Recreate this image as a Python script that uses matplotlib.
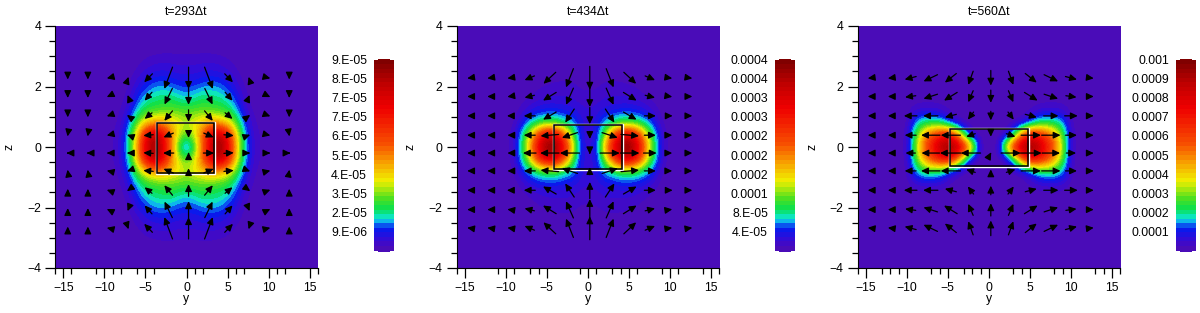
import numpy as np
import matplotlib
matplotlib.use('Agg')
import matplotlib.pyplot as plt
from matplotlib.colors import LinearSegmentedColormap
from matplotlib.patches import Rectangle

plt.rcParams['font.family'] = ['Liberation Sans', 'DejaVu Sans']
plt.rcParams['font.size'] = 8.8

W, H = 1200, 313

titles = ['t=293\u0394t', 't=434\u0394t', 't=560\u0394t']
bar_labels = [
    ['9.E-05', '8.E-05', '7.E-05', '7.E-05', '6.E-05', '5.E-05', '4.E-05', '3.E-05', '2.E-05', '9.E-06'],
    ['0.0004', '0.0004', '0.0003', '0.0003', '0.0002', '0.0002', '0.0002', '0.0001', '8.E-05', '4.E-05'],
    ['0.001', '0.0009', '0.0008', '0.0007', '0.0006', '0.0005', '0.0004', '0.0003', '0.0002', '0.0001'],
]
major_y = [-15, -10, -5, 0, 5, 10, 15]
minor_y = [
    [-16, -14, -11, -9, -8, -6, -4, 1, 2, 6, 7, 11, 12, 16],
    [-16, -11, -9, -7, -6, -1, 1, 3, 4, 6, 9, 11, 14, 16],
    [-16, -13, -12, -11, -7, -6, -3, -2, -1, 3, 4, 8, 9, 13, 14, 16],
]
major_z = [-4, -2, 0, 2, 4]
minor_z = [-3.5, -3, -2.5, -1.5, -1, -0.5, 0.5, 1, 1.5, 2.5, 3, 3.5]

# Field, quarter plane, normalised to the colour bar. Rows z=0,0.4,..4.0, columns y=0,1,..11
field_1 = [
    [.05, .25, .55, .85, .98, .80, .45, .20, .05, .02, .01, 0],
    [.28, .35, .55, .80, .90, .72, .42, .18, .05, .02, .01, 0],
    [.33, .38, .42, .48, .45, .40, .28, .13, .03, .015, .005, 0],
    [.27, .28, .28, .27, .26, .24, .17, .07, .02, .01, 0, 0],
    [.17, .19, .22, .21, .20, .17, .11, .04, .01, .005, 0, 0],
    [.11, .12, .14, .15, .14, .11, .07, .02, .01, 0, 0, 0],
    [.07, .07, .08, .085, .08, .06, .035, .01, .005, 0, 0, 0],
    [.04, .04, .045, .045, .04, .03, .015, .005, 0, 0, 0, 0],
    [.015, .015, .015, .015, .012, .01, .005, 0, 0, 0, 0, 0],
    [.005, .005, .005, .005, .005, .002, 0, 0, 0, 0, 0, 0],
    [0, 0, 0, 0, 0, 0, 0, 0, 0, 0, 0, 0],
]
field_2 = [
    [.06, .09, .45, .75, .97, 1.0, .80, .50, .22, .05, .01, 0],
    [.05, .08, .30, .60, .80, .82, .68, .40, .20, .04, .01, 0],
    [.06, .08, .16, .19, .24, .25, .22, .17, .09, .02, .005, 0],
    [.05, .06, .08, .09, .10, .10, .09, .07, .04, .01, 0, 0],
    [.03, .035, .05, .05, .05, .05, .04, .025, .015, 0, 0, 0],
    [.02, .02, .03, .03, .03, .025, .02, .01, .005, 0, 0, 0],
    [.01, .01, .015, .015, .015, .01, .01, .005, 0, 0, 0, 0],
    [.005, .005, .005, .005, .005, .005, 0, 0, 0, 0, 0, 0],
    [0, 0, 0, 0, 0, 0, 0, 0, 0, 0, 0, 0],
    [0, 0, 0, 0, 0, 0, 0, 0, 0, 0, 0, 0],
    [0, 0, 0, 0, 0, 0, 0, 0, 0, 0, 0, 0],
]
field_3 = [
    [0, .02, .40, .75, .95, 1.0, .90, .72, .55, .30, .03, .005],
    [0, 0, .03, .20, .55, .75, .70, .60, .45, .25, .03, .005],
    [0, 0, 0, .01, .03, .10, .20, .22, .22, .15, .02, 0],
    [0, 0, 0, 0, .01, .02, .04, .05, .05, .04, .015, 0],
    [0, 0, 0, 0, 0, .005, .01, .01, .01, .01, 0, 0],
    [0, 0, 0, 0, 0, 0, 0, 0, 0, 0, 0, 0],
    [0, 0, 0, 0, 0, 0, 0, 0, 0, 0, 0, 0],
    [0, 0, 0, 0, 0, 0, 0, 0, 0, 0, 0, 0],
    [0, 0, 0, 0, 0, 0, 0, 0, 0, 0, 0, 0],
    [0, 0, 0, 0, 0, 0, 0, 0, 0, 0, 0, 0],
    [0, 0, 0, 0, 0, 0, 0, 0, 0, 0, 0, 0],
]

# Arrows, right half of the top rows. Columns y=.25,2.7,5.15,7.6,10.05,12.5
arrow_rows = [2.28, 1.67, 1.03, 0.39, -0.2]
arrow_cols = [0.25, 2.7, 5.15, 7.6, 10.05, 12.5]
u_1 = [[0, 1.0, 1.0, -.1, .3, 0], [0, .95, .9, .15, .3, 0], [0, 1.0, .9, .3, .3, 0],
       [0, 1.2, 1.2, .3, .3, .05], [0, 1.3, 1.2, .3, .3, .3]]
v_1 = [[-.72, -.72, -.28, .08, -.02, -.1], [-.55, -.53, -.28, .1, -.04, -.1], [-.4, -.33, -.2, .06, -.03, -.1],
       [-.18, -.14, -.03, .03, -.02, -.08], [.05, 0, .02, 0, 0, 0]]
u_2 = [[0, .9, 1.5, 1.2, .5, .5], [0, .9, 1.6, 1.2, .5, .5], [0, 1.1, 1.6, 1.4, .6, .5],
       [0, 1.9, 2.2, 1.4, .5, .5], [0, 2.4, 2.3, 1.6, .5, .5]]
v_2 = [[-.77, -.62, -.38, -.14, -.02, -.02], [-.7, -.55, -.27, -.08, -.02, 0], [-.55, -.45, -.25, 0, 0, 0],
       [-.25, -.17, -.05, 0, 0, 0], [-.08, 0, 0, 0, 0, 0]]
u_3 = [[0, .6, 1.4, 1.7, 1.4, .6], [0, .6, 1.6, 1.7, 1.3, .6], [0, .7, 1.4, 1.8, 1.6, .6],
       [0, 1.1, 2.4, 2.3, 1.4, .6], [.1, 2.4, 2.6, 2.2, 1.2, .6]]
v_3 = [[-.5, -.45, -.3, -.22, -.1, -.02], [-.42, -.38, -.27, -.15, -.05, 0], [-.3, -.25, -.1, 0, 0, 0],
       [-.1, -.1, 0, 0, 0, 0], [.05, 0, 0, 0, 0, 0]]

# Black rectangle y0,y1,z0,z1
boxes = [(-3.54, 3.37, -.85, .8), (-4.1, 4.2, -.74, .72), (-4.75, 4.75, -.64, .61)]

cmap_pos = [0, .04, .10, .135, .155, .21, .27, .36, .46, .56, .75, .88, 1.0]
cmap_col = ['#4a0cb8', '#3a0ad2', '#0a1aee', '#0a78f0', '#10e8e8', '#08e050', '#50e020', '#f0f000',
            '#f8a000', '#f85000', '#f00000', '#c00000', '#800000']
cmap = LinearSegmentedColormap.from_list('rainbow_bands', list(zip(cmap_pos, cmap_col)), N=42)


def px_axes(x0, x1, y0, y1):
    return fig.add_axes([x0 / W, 1 - y1 / H, (x1 - x0) / W, (y1 - y0) / H])


def full_field(q):
    q = np.array(q, dtype=float)
    q = np.hstack([q, np.zeros((q.shape[0], 5))])
    right = np.vstack([q[:0:-1], q])  # mirror in z
    return np.hstack([right[:, :0:-1], right])  # mirror in y


def draw_arrows(ax, u, v):
    rows = arrow_rows + [2 * arrow_rows[-1] - z for z in arrow_rows[-2::-1]]
    for i, z in enumerate(rows):
        k = i if i < 5 else 8 - i
        sign = 1 if i < 5 else -1
        for j, y in enumerate(arrow_cols):
            du, dv = u[k][j], sign * v[k][j]
            pts = [(y, du)]
            if j > 0:
                pts.append((2 * arrow_cols[0] - y, -du))
            if j == 5:
                pts.append((2 * arrow_cols[0] - 14.95, -du))
            for yy, d in pts:
                ax.annotate('', xy=(yy + d / 2, z + dv / 2), xytext=(yy - d / 2, z - dv / 2),
                            arrowprops=dict(arrowstyle='-|>,head_length=0.42,head_width=0.2', color='black',
                                            lw=0.9, shrinkA=0, shrinkB=0, mutation_scale=10))


fig = plt.figure(figsize=(W / 100, H / 100), dpi=100)

panel_x = [(55, 318), (456.5, 719), (857.5, 1120)]
bar_x = [374, 775, 1176]
label_x = [367, 768, 1169]
zlabel_x = [13, 414, 816]
fields = [field_1, field_2, field_3]
us = [u_1, u_2, u_3]
vs = [v_1, v_2, v_3]

for p in range(3):
    x0, x1 = panel_x[p]
    ax = px_axes(x0, x1, 26, 268)
    ax.imshow(full_field(fields[p]), extent=(-16.5, 16.5, -4.2, 4.2), origin='lower', aspect='auto',
              cmap=cmap, vmin=0, vmax=1, interpolation='bicubic', interpolation_stage='data')
    ax.set_xlim(-16, 16)
    ax.set_ylim(-4, 4)
    for s in ['top', 'right']:
        ax.spines[s].set_visible(False)
    ax.set_xticks(major_y)
    ax.set_xticks(minor_y[p], minor=True)
    ax.set_yticks(major_z)
    ax.set_yticks(minor_z, minor=True)
    ax.tick_params(which='major', length=7, width=0.9, pad=3)
    ax.tick_params(which='minor', length=4, width=0.9)
    ax.set_title(titles[p], fontsize=8.8, pad=8)
    ax.set_xlabel('y', labelpad=0)
    ax.xaxis.set_label_coords(0.5, -0.105)
    ax.set_ylabel('z', labelpad=0)
    ax.yaxis.set_label_coords((zlabel_x[p] + 3 - x0) / (x1 - x0), 0.5)

    draw_arrows(ax, us[p], vs[p])

    y0, y1, z0, z1 = boxes[p]
    ax.add_patch(Rectangle((y0 - .12, z0 - .03), y1 - y0 + .24, z1 - z0 + .06, fill=False, ec='white', lw=1.0))
    ax.add_patch(Rectangle((y0, z0), y1 - y0, z1 - z0, fill=False, ec='black', lw=1.1))

    # colour bar
    bx = bar_x[p]
    cax = px_axes(bx, bx + 20, 60, 251)
    grad = np.linspace(0, 1, 256).reshape(-1, 1)
    cax.imshow(grad, origin='lower', aspect='auto', cmap=cmap, vmin=0, vmax=1, interpolation='nearest')
    cax.axis('off')
    fig.add_artist(Rectangle(((bx + 4) / W, 1 - 60 / H), 12 / W, 1.2 / H, transform=fig.transFigure,
                             fc=cmap(1.0), ec='none'))
    fig.add_artist(Rectangle(((bx + 4) / W, 1 - 252.2 / H), 12 / W, 1.2 / H, transform=fig.transFigure,
                             fc=cmap(0.0), ec='none'))
    for i, lab in enumerate(bar_labels[p]):
        fig.text(label_x[p] / W, 1 - (61 + i * 19.1) / H, lab, ha='right', va='center', fontsize=8.8)

fig.savefig('out.png', dpi=100)
